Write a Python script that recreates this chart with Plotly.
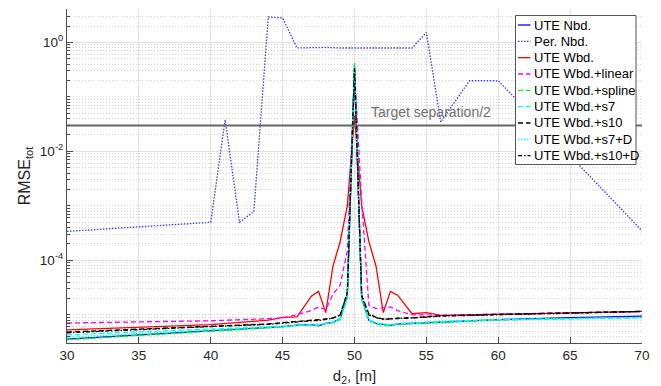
import numpy as np
import plotly.graph_objects as go

# ---- data -------------------------------------------------------------
# distance grid of the UTE runs, d2 in metres
d2 = [30, 35, 40, 44, 45, 46, 47, 47.5, 48, 48.5, 49, 49.5, 50,
      50.5, 51, 51.5, 52, 52.5, 53, 54, 55, 56, 60, 65, 70]

ute_nbd = [3.6e-6, 4.3e-6, 5.1e-6, 5.8e-6, 6.1e-6, 6.5e-6, 6.6e-6, 6.3e-6, 7.0e-6,
           7.3e-6, 8.5e-6, 2.2e-5, 0.32, 2.0e-5, 8.0e-6, 7.0e-6, 6.6e-6, 6.4e-6,
           6.8e-6, 7.0e-6, 7.2e-6, 7.5e-6, 8.2e-6, 8.9e-6, 9.5e-6]
ute_wbd = [5.3e-6, 5.9e-6, 6.6e-6, 8.0e-6, 9.0e-6, 9.2e-6, 2.2e-5, 2.7e-5, 1.1e-5,
           7.8e-5, 2.2e-4, 1.0e-3, 4.5e-2, 1.0e-3, 2.2e-4, 7.8e-5, 1.1e-5, 2.7e-5,
           2.3e-5, 1.05e-5, 1.1e-5, 9.8e-6, 1.03e-5, 1.1e-5, 1.16e-5]
wbd_linear = [7.1e-6, 7.4e-6, 7.8e-6, 8.5e-6, 8.8e-6, 1.0e-5, 1.2e-5, 1.4e-5, 1.25e-5,
              2.4e-5, 3.5e-5, 1.5e-4, 0.30, 1.2e-3, 1.5e-5, 1.3e-5, 1.35e-5, 1.4e-5,
              1.2e-5, 1.0e-5, 1.0e-5, 9.8e-6, 1.03e-5, 1.1e-5, 1.15e-5]
wbd_spline = [3.5e-6, 4.2e-6, 5.0e-6, 5.7e-6, 6.0e-6, 6.4e-6, 6.5e-6, 6.4e-6, 6.9e-6,
              7.2e-6, 8.2e-6, 2.0e-5, 0.42, 1.9e-5, 7.8e-6, 6.8e-6, 6.4e-6, 6.3e-6,
              6.7e-6, 6.9e-6, 7.1e-6, 7.3e-6, 8.0e-6, 8.5e-6, 8.9e-6]
wbd_s7 = [4.3e-6, 4.9e-6, 5.5e-6, 6.0e-6, 6.2e-6, 6.5e-6, 6.7e-6, 6.6e-6, 7.1e-6,
          7.4e-6, 8.6e-6, 2.3e-5, 0.37, 2.1e-5, 8.2e-6, 7.1e-6, 6.8e-6, 6.6e-6,
          6.9e-6, 7.1e-6, 7.3e-6, 7.6e-6, 8.2e-6, 8.6e-6, 8.9e-6]
wbd_s10 = [4.85e-6, 5.5e-6, 6.2e-6, 6.8e-6, 7.2e-6, 7.6e-6, 7.9e-6, 8.0e-6, 8.4e-6,
           8.8e-6, 1.0e-5, 2.6e-5, 0.36, 2.3e-5, 1.05e-5, 9.0e-6, 8.4e-6, 8.5e-6,
           8.7e-6, 8.8e-6, 9.2e-6, 9.6e-6, 1.02e-5, 1.09e-5, 1.16e-5]
wbd_s7_d = [3.9e-6, 4.6e-6, 5.3e-6, 5.9e-6, 6.1e-6, 6.4e-6, 6.6e-6, 6.5e-6, 7.0e-6,
            7.3e-6, 8.4e-6, 2.2e-5, 0.36, 2.0e-5, 8.0e-6, 7.0e-6, 6.7e-6, 6.5e-6,
            6.8e-6, 7.0e-6, 7.2e-6, 7.5e-6, 8.1e-6, 8.6e-6, 9.0e-6]
wbd_s10_d = [4.7e-6, 5.4e-6, 6.1e-6, 6.7e-6, 7.1e-6, 7.5e-6, 7.8e-6, 7.9e-6, 8.3e-6,
             8.7e-6, 9.8e-6, 2.5e-5, 0.34, 2.2e-5, 1.0e-5, 8.9e-6, 8.3e-6, 8.4e-6,
             8.6e-6, 8.7e-6, 9.1e-6, 9.5e-6, 1.01e-5, 1.08e-5, 1.15e-5]

# periodic-neighbourhood run has its own sample points
d2_per = [30, 40, 41, 42, 43, 44, 45, 46, 47, 48, 49, 50, 51, 52, 53, 54,
          55, 56, 58, 59, 60, 70]
per_nbd = [3.4e-4, 5.0e-4, 3.8e-2, 5.0e-4, 7.9e-4, 2.92, 2.8, 0.79, 0.80, 0.81,
           0.79, 0.79, 0.80, 0.79, 0.79, 0.79, 1.52, 0.0346, 0.198, 0.198, 0.198,
           3.5e-4]

target_half = 0.03
target_label = "Target separation/2"

x_ticks = [30, 35, 40, 45, 50, 55, 60, 65, 70]
y_major = [1e-4, 1e-2, 1e0]
y_major_text = ["10<sup>-4</sup>", "10<sup>-2</sup>", "10<sup>0</sup>"]

# name, x, y, colour, dash pattern
series = [
    ("UTE Nbd.", d2, ute_nbd, "#0000ff", "solid"),
    ("Per. Nbd.", d2_per, per_nbd, "#3a3aff", "1.5px,1.5px"),
    ("UTE Wbd.", d2, ute_wbd, "#ff0000", "solid"),
    ("UTE Wbd.+linear", d2, wbd_linear, "#ff00ff", "5px,3px"),
    ("UTE Wbd.+spline", d2, wbd_spline, "#00ff00", "5px,3px"),
    ("UTE Wbd.+s7", d2, wbd_s7, "#00ffff", "5px,3px"),
    ("UTE Wbd.+s10", d2, wbd_s10, "#000000", "5px,3px"),
    ("UTE Wbd.+s7+D", d2, wbd_s7_d, "#00ffff", "1.5px,1.5px"),
    ("UTE Wbd.+s10+D", d2, wbd_s10_d, "#000000", "4px,2px,1.5px,2px"),
]

# ---- figure -------------------------------------------------------------
W, H = 661, 386
ML, MR, MT, MB = 67, 19, 9, 43
PW, PH = W - ML - MR, H - MT - MB
FONT = "Liberation Sans, Arial, sans-serif"

fig = go.Figure()
for name, xs, ys, col, dash in series:
    fig.add_trace(go.Scatter(x=xs, y=ys, mode="lines", name=name,
                             line=dict(color=col, width=1.3, dash=dash),
                             showlegend=False))

# horizontal reference at half the target separation
fig.add_trace(go.Scatter(x=[x_ticks[0], x_ticks[-1]], y=[target_half, target_half],
                         mode="lines", line=dict(color="#666666", width=2),
                         showlegend=False, hoverinfo="skip"))
fig.add_annotation(x=51, y=np.log10(target_half), xref="x", yref="y",
                   text=target_label, showarrow=False, xanchor="left",
                   yanchor="bottom", yshift=3,
                   font=dict(family=FONT, size=14, color="#707070"))

minor_vals = [m * 10.0 ** k for k in range(-6, 1) for m in range(1, 10)
              if not (m == 1 and 10.0 ** k in y_major)]

fig.update_xaxes(range=[x_ticks[0], x_ticks[-1]], tickvals=x_ticks, automargin=False,
                 ticks="inside", ticklen=6, tickcolor="#4d4d4d",
                 showline=True, linecolor="#4d4d4d", linewidth=1,
                 showgrid=True, gridcolor="#e2e2e2", gridwidth=1, zeroline=False,
                 tickfont=dict(family=FONT, size=13.5, color="#262626"),
                 title=dict(text="d<sub>2</sub>, [m]", standoff=12,
                            font=dict(family=FONT, size=15, color="#262626")))
fig.update_yaxes(type="log", range=[-5.516, 0.613], tickmode="array", automargin=False,
                 tickvals=y_major, ticktext=y_major_text,
                 ticks="inside", ticklen=6, tickcolor="#4d4d4d",
                 showline=True, linecolor="#4d4d4d", linewidth=1,
                 showgrid=True, gridcolor="#e2e2e2", gridwidth=1, zeroline=False,
                 minor=dict(tickmode="array", tickvals=minor_vals, ticks="inside",
                            ticklen=3, tickcolor="#4d4d4d", showgrid=True,
                            gridcolor="#d6d6d6", griddash="1px,2px", gridwidth=1),
                 tickfont=dict(family=FONT, size=13.5, color="#262626"),
                 title=dict(text="RMSE<sub>tot</sub>", standoff=5,
                            font=dict(family=FONT, size=16, color="#262626")))

# ---- legend box drawn in pixel terms, converted to paper units ----------
def px(xp):
    return (xp - ML) / PW


def py(yp):
    return (H - MB - yp) / PH


leg_l, leg_r, leg_t, leg_b = 515.5, 636, 15.5, 164.5
fig.add_shape(type="rect", xref="paper", yref="paper", layer="above",
              x0=px(leg_l), x1=px(leg_r), y0=py(leg_b), y1=py(leg_t),
              fillcolor="white", line=dict(color="#555555", width=1))
row0, row_h = 25.0, 16.33
for i, (name, xs, ys, col, dash) in enumerate(series):
    yc = row0 + i * row_h
    fig.add_shape(type="line", xref="paper", yref="paper", layer="above",
                  x0=px(518), x1=px(530.5), y0=py(yc), y1=py(yc),
                  line=dict(color=col, width=1.3, dash=dash))
    fig.add_annotation(x=px(532), y=py(yc), xref="paper", yref="paper",
                       text=name, showarrow=False, xanchor="left", yanchor="middle",
                       font=dict(family=FONT, size=13, color="#000000"))

fig.update_layout(width=W, height=H, margin=dict(l=ML, r=MR, t=MT, b=MB),
                  plot_bgcolor="white", paper_bgcolor="white", showlegend=False)

fig.write_html("out.html")
